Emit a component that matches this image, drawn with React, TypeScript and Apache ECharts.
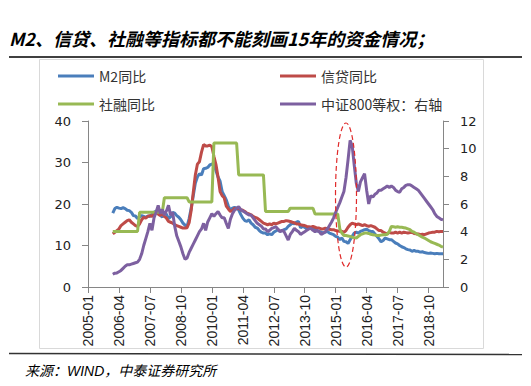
import React, { useEffect, useRef } from "react";
import * as echarts from "echarts";

// Monthly categories 2005-01 .. 2019-05
const months: string[] = [];
for (let y = 2005; y <= 2019; y++) {
  for (let mo = 1; mo <= 12; mo++) {
    if (months.length < 173) months.push(`${y}-${mo < 10 ? "0" + mo : mo}`);
  }
}

// Series values start at 2006-01
const m2Yoy = [
  17.8, 18.9, 19.2, 19.0, 18.9, 19.1, 18.9, 18.5, 18.4, 18.0, 17.2, 17.1,
  16.5, 16.9, 17.2, 17.0, 16.8, 17.1, 17.0, 17.5, 18.0, 18.3, 17.8, 17.4,
  16.8, 18.0, 17.5, 16.5, 16.9, 18.0, 17.8, 17.2, 16.8, 16.2, 15.4, 14.9,
  14.6, 16.5, 19.0, 22.0, 25.0, 26.5, 27.3, 27.0, 28.5, 28.6, 28.8, 29.4,
  29.6, 29.8, 28.0, 26.5, 25.5, 23.0, 22.0, 21.0, 19.5, 18.5, 19.0, 19.2,
  19.0, 18.6, 17.5, 16.6, 16.0, 15.8, 16.2, 15.4, 15.0, 14.4, 14.2, 13.6,
  13.2, 13.0, 13.0, 12.6, 12.8, 12.6, 13.2, 13.5, 13.8, 13.4, 13.6, 13.8,
  14.0, 14.6, 15.0, 15.4, 15.2, 15.6, 15.8, 14.3, 14.6, 14.4, 14.0, 14.3,
  14.1, 14.2, 13.8, 13.5, 13.4, 13.2, 13.0, 13.2, 13.4, 13.0, 12.8, 12.6,
  12.2, 12.0, 11.4, 11.8, 11.0, 10.9, 10.5, 11.4, 12.2, 13.0, 13.2, 13.0,
  13.4, 13.6, 13.8, 13.9, 13.6, 13.4, 13.4, 12.8, 12.2, 11.6, 10.9, 11.2,
  11.8, 11.6, 11.4, 11.4, 11.0, 10.6, 10.4, 10.0, 9.7, 9.5, 9.2, 9.0,
  8.9, 8.6, 8.8, 8.6, 8.6, 8.4, 8.5, 8.3, 8.2, 8.1, 8.2, 8.1,
  8.0, 8.1, 8.0, 8.0, 8.0,
];

const loanYoy = [
  12.8, 13.2, 13.6, 14.0, 14.8, 15.2, 15.6, 16.0, 16.2, 15.6, 15.2, 14.8,
  14.6, 15.2, 16.2, 16.8, 16.6, 17.0, 17.2, 17.0, 17.6, 18.0, 17.6, 17.2,
  17.8, 17.0, 16.6, 15.8, 15.6, 15.4, 15.0, 14.8, 14.6, 14.4, 14.2, 14.2,
  14.3, 15.5, 18.5, 22.8, 27.0, 29.6, 30.2, 32.5, 34.3, 34.0, 34.0, 34.2,
  33.8, 31.5, 29.5, 26.5, 23.0, 22.0, 21.5, 19.5, 18.8, 18.2, 18.4, 19.0,
  18.8, 19.0, 18.6, 18.5, 18.2, 17.8, 17.6, 17.4, 17.0, 16.8, 16.6, 16.2,
  15.8, 15.4, 15.2, 15.0, 15.2, 15.0, 15.4, 15.2, 15.4, 15.6, 15.8, 15.8,
  16.0, 15.9, 15.8, 15.6, 15.5, 15.2, 15.2, 15.0, 14.9, 14.8, 14.6, 14.5,
  14.4, 14.6, 14.4, 14.2, 14.2, 14.0, 14.0, 14.2, 14.0, 13.9, 13.8, 13.8,
  13.6, 13.5, 13.4, 13.4, 13.2, 13.6, 14.4, 15.0, 15.4, 15.2, 15.0, 15.2,
  15.0, 14.8, 15.0, 14.8, 14.6, 14.8, 14.6, 14.4, 14.0, 13.6, 13.6, 13.2,
  13.0, 12.8, 13.2, 13.0, 13.0, 13.2, 13.0, 13.2, 13.0, 13.2, 13.1, 13.0,
  13.1, 13.2, 12.9, 12.8, 12.8, 12.6, 12.7, 12.6, 12.8, 13.0, 13.1, 13.2,
  13.2, 13.4, 13.3, 13.4, 13.4,
];

const tsfYoy = [
  13.4, 13.4, 13.4, 13.4, 13.4, 13.4, 13.4, 13.4, 13.4, 13.4, 13.4, 13.4,
  13.4, 18.0, 18.0, 18.0, 18.0, 18.0, 18.0, 18.0, 18.0, 18.0, 18.0, 18.0,
  18.0, 21.5, 21.5, 21.5, 21.5, 21.5, 21.5, 21.5, 21.5, 21.5, 21.5, 21.5,
  21.5, 20.5, 20.5, 20.5, 20.5, 20.5, 20.5, 20.5, 20.5, 20.5, 20.5, 20.5,
  20.5, 34.7, 34.7, 34.7, 34.7, 34.7, 34.7, 34.7, 34.7, 34.7, 34.7, 34.7,
  34.7, 27.0, 27.0, 27.0, 27.0, 27.0, 27.0, 27.0, 27.0, 27.0, 27.0, 27.0,
  27.0, 27.0, 18.2, 18.2, 18.2, 18.2, 18.2, 18.2, 18.2, 18.2, 18.2, 18.2,
  18.2, 18.2, 19.0, 19.0, 19.0, 19.0, 19.0, 19.0, 19.0, 19.0, 19.0, 19.0,
  19.0, 19.0, 17.6, 17.6, 17.6, 17.6, 17.6, 17.6, 17.6, 17.6, 17.6, 17.6,
  17.6, 17.6, 14.0, 13.0, 12.4, 12.4, 12.3, 12.2, 12.0, 11.9, 11.8, 12.2,
  12.6, 12.8, 13.0, 13.0, 12.9, 12.7, 12.6, 12.5, 12.4, 12.4, 12.5, 12.6,
  12.6, 12.7, 13.4, 14.6, 14.5, 14.4, 14.5, 14.4, 14.4, 14.3, 14.2, 14.0,
  13.8, 13.4, 13.2, 12.9, 12.6, 12.3, 12.0, 11.8, 11.5, 11.2, 10.9, 10.7,
  10.5, 10.3, 10.1, 9.8, 9.6,
];

const csi800Eq = [
  0.92, 1.0, 1.02, 1.1, 1.2, 1.35, 1.5, 1.6, 1.6, 1.65, 1.7, 1.75,
  1.8, 2.0, 2.4, 3.0, 3.5, 4.0, 4.6, 4.1, 5.0, 5.4, 5.9, 5.3,
  5.6, 5.2, 5.5, 5.9, 5.2, 5.4, 4.4, 3.7, 3.3, 2.9, 2.4, 2.0,
  2.1, 2.5, 2.8, 3.1, 3.4, 3.7, 4.0, 4.2, 4.6, 4.1, 4.7, 5.0,
  5.3, 5.1, 5.3, 5.45, 5.2, 5.0, 5.0, 4.6, 4.24, 4.9, 5.3, 5.55,
  5.7, 5.8, 5.6, 5.5, 5.4, 5.3, 5.2, 5.2, 5.0, 4.8, 4.6, 4.5,
  4.4, 4.2, 4.2, 4.0, 4.1, 4.24, 4.3, 4.36, 4.2, 4.0, 4.1, 4.0,
  3.7, 3.4, 3.8, 4.0, 4.24, 4.1, 4.0, 3.8, 3.9, 4.0, 4.1, 4.2,
  4.24, 4.1, 4.0, 4.1, 4.0, 3.8, 3.9, 4.0, 4.2, 4.45, 4.7, 5.0,
  5.4, 5.75, 6.1, 6.5, 6.9, 7.9, 9.2, 10.6, 10.2, 8.8, 7.5, 6.9,
  7.6, 7.9, 8.2, 7.0, 6.0, 6.6, 6.5, 6.7, 6.8, 7.0, 7.0, 7.1,
  7.2, 7.3, 7.2, 7.3, 7.2, 7.0, 6.9, 6.85, 7.1, 7.2, 7.35, 7.4,
  7.4, 7.3, 7.2, 7.1, 7.0, 6.8, 6.6, 6.4, 6.2, 6.0, 5.8, 5.6,
  5.3, 5.1, 5.0, 4.9, 4.85,
];

const leftTicks = { min: 0, max: 40, interval: 10 };
const rightTicks = { min: 0, max: 12, interval: 2 };
const labelEvery = 15;

const lead: (number | null)[] = [null, null, null, null, null, null, null, null, null, null, null, null];
const withLead = (a: number[]) => lead.concat(a);

const CJK = "'Noto Sans CJK SC', sans-serif";

export default function App() {
  const ref = useRef<HTMLDivElement>(null);
  useEffect(() => {
    if (!ref.current) return;
    const chart = echarts.init(ref.current, undefined, { renderer: "svg" });
    const axisColor = "#868686";
    const showIdx = (i: number) => i % labelEvery === 0;
    chart.setOption({
      animation: false,
      backgroundColor: "#fff",
      title: {
        text: "M2、信贷、社融等指标都不能刻画15年的资金情况；",
        left: 9,
        top: 29,
        padding: 0,
        textStyle: {
          fontFamily: CJK,
          fontSize: 18,
          fontWeight: "bold",
          fontStyle: "italic",
          color: "#000",
        },
      },
      legend: [
        {
          data: ["M2同比", "社融同比"],
          orient: "vertical",
          left: 58,
          top: 69,
          padding: 0,
          itemWidth: 36,
          itemHeight: 3,
          itemGap: 14,
          icon: "rect",
          textStyle: { fontFamily: CJK, fontSize: 14, color: "#333" },
        },
        {
          data: ["信贷同比", "中证800等权：右轴"],
          orient: "vertical",
          left: 280,
          top: 69,
          padding: 0,
          itemWidth: 36,
          itemHeight: 3,
          itemGap: 14,
          icon: "rect",
          textStyle: { fontFamily: CJK, fontSize: 14, color: "#333" },
        },
      ],
      grid: { left: 88, right: 88, top: 121, bottom: 99, containLabel: false },
      xAxis: {
        type: "category",
        data: months,
        boundaryGap: false,
        axisLine: { lineStyle: { color: axisColor, width: 1 } },
        axisTick: { interval: showIdx, length: 6, lineStyle: { color: axisColor } },
        axisLabel: {
          interval: showIdx,
          rotate: 90,
          margin: 8,
          fontSize: 14,
          fontFamily: "'Liberation Sans', Arial, sans-serif",
          color: "#222",
        },
        splitLine: { show: false },
      },
      yAxis: [
        {
          type: "value",
          ...leftTicks,
          axisLine: { show: true, lineStyle: { color: axisColor } },
          axisTick: { show: true, length: 6, lineStyle: { color: axisColor } },
          axisLabel: { margin: 17, fontSize: 13, fontFamily: "'DejaVu Sans', sans-serif", color: "#222" },
          splitLine: { show: false },
        },
        {
          type: "value",
          position: "right",
          ...rightTicks,
          axisLine: { show: true, lineStyle: { color: axisColor } },
          axisTick: { show: true, length: 6, lineStyle: { color: axisColor } },
          axisLabel: { margin: 17, fontSize: 13, fontFamily: "'DejaVu Sans', sans-serif", color: "#222" },
          splitLine: { show: false },
        },
      ],
      series: [
        {
          name: "M2同比",
          type: "line",
          data: withLead(m2Yoy),
          showSymbol: false,
          symbol: "none",
          lineStyle: { width: 3, color: "#4a7ebb" },
          itemStyle: { color: "#4a7ebb" },
        },
        {
          name: "信贷同比",
          type: "line",
          data: withLead(loanYoy),
          showSymbol: false,
          symbol: "none",
          lineStyle: { width: 3, color: "#be4b48" },
          itemStyle: { color: "#be4b48" },
        },
        {
          name: "社融同比",
          type: "line",
          data: withLead(tsfYoy),
          showSymbol: false,
          symbol: "none",
          lineStyle: { width: 3, color: "#98b954" },
          itemStyle: { color: "#98b954" },
        },
        {
          name: "中证800等权：右轴",
          type: "line",
          yAxisIndex: 1,
          data: withLead(csi800Eq),
          showSymbol: false,
          symbol: "none",
          lineStyle: { width: 3, color: "#7d60a0" },
          itemStyle: { color: "#7d60a0" },
        },
      ],
      graphic: [
        {
          type: "rect",
          z: -1,
          shape: { x: 39.5, y: 59.5, width: 444, height: 289 },
          style: { fill: "none", stroke: "#d9d9d9", lineWidth: 1 },
        },
        {
          type: "line",
          shape: { x1: 9, y1: 57, x2: 522, y2: 57 },
          style: { stroke: "#000", lineWidth: 1.4 },
        },
        {
          type: "line",
          shape: { x1: 9, y1: 353.5, x2: 522, y2: 354.5 },
          style: { stroke: "#333", lineWidth: 1.4 },
        },
        {
          type: "text",
          x: 25,
          y: 364,
          style: {
            text: "来源：WIND，中泰证券研究所",
            fill: "#000",
            font: "italic 14px 'Liberation Sans', 'Noto Sans CJK SC', sans-serif",
          },
        },
        {
          type: "ellipse",
          z: 10,
          shape: { cx: 346, cy: 195, rx: 10.5, ry: 72 },
          style: { fill: "none", stroke: "#e02a2a", lineWidth: 1.2, lineDash: [5, 3] },
        },
      ],
    });
    return () => chart.dispose();
  }, []);
  return (
    <div
      ref={ref}
      style={{ position: "fixed", left: 0, top: 0, width: 531, height: 386, background: "#fff" }}
    />
  );
}
